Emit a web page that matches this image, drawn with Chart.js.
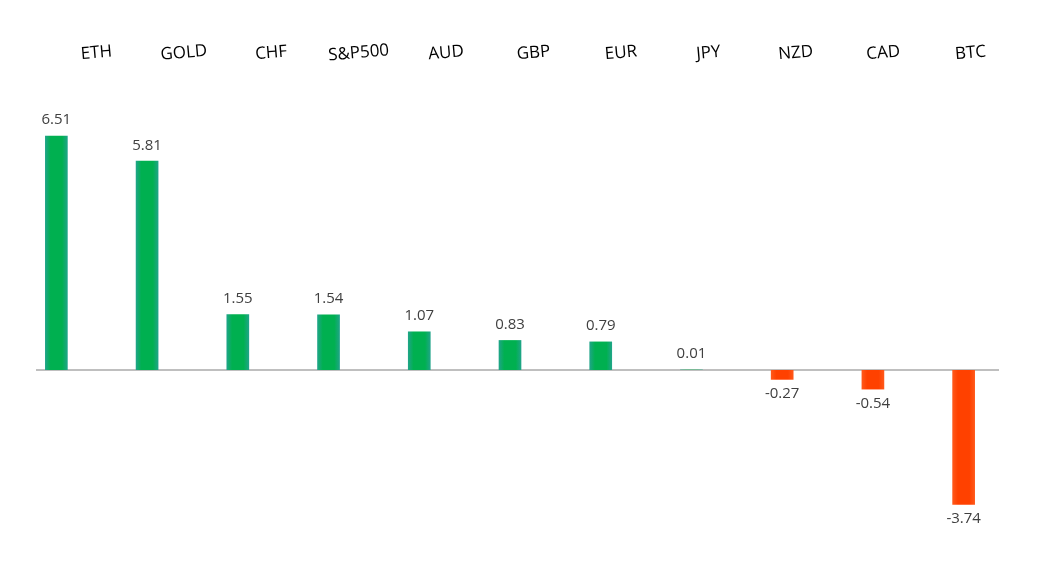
<!DOCTYPE html>
<html>
<head>
    <meta charset="utf-8"/>
    <title>Rendimiento</title>
    <script src="https://cdn.jsdelivr.net/npm/chart.js"></script>
    <style>
        html, body { margin: 0; padding: 0; background: #ffffff; }
        #chart-container { width: 1055px; height: 576px; }
    </style>
</head>
<body>
    <div id="chart-container">
        <canvas id="perfChart" width="1055" height="576"></canvas>
    </div>

    <script>
        // Datos
        const activos = ['ETH', 'GOLD', 'CHF', 'S&P500', 'AUD', 'GBP', 'EUR', 'JPY', 'NZD', 'CAD', 'BTC'];
        const valores = [6.51, 5.81, 1.55, 1.54, 1.07, 0.83, 0.79, 0.01, -0.27, -0.54, -3.74];
        const yMin = -5;
        const yMax = 8;

        const fuente = '"Open Sans", "Noto Sans", sans-serif';

        // degradado horizontal suave en cada barra
        function colorBarra(context) {
            const chart = context.chart;
            const v = context.raw;
            const centro = v >= 0 ? '#00b050' : '#ff4100';
            const borde = v >= 0 ? '#22a48c' : '#ff5a1c';
            const x = chart.scales && chart.scales.x;
            if (!x || !chart.chartArea) return centro;
            const cx = x.getPixelForValue(context.dataIndex);
            const g = chart.ctx.createLinearGradient(cx - 11.5, 0, cx + 11.5, 0);
            g.addColorStop(0, borde);
            g.addColorStop(0.25, centro);
            g.addColorStop(0.75, centro);
            g.addColorStop(1, borde);
            return g;
        }

        // linea del cero, etiquetas de valor y nombres arriba
        const etiquetasPlugin = {
            id: 'etiquetas',
            beforeDatasetsDraw(chart) {
                const { ctx, chartArea, scales } = chart;
                const y0 = scales.y.getPixelForValue(0);
                ctx.save();
                ctx.strokeStyle = '#bfbfbf';
                ctx.lineWidth = 2;
                ctx.beginPath();
                ctx.moveTo(chartArea.left + 25, y0);
                ctx.lineTo(chartArea.right - 10, y0);
                ctx.stroke();
                ctx.restore();
            },
            afterDatasetsDraw(chart) {
                const { ctx, scales } = chart;
                const meta = chart.getDatasetMeta(0);
                ctx.save();
                ctx.font = '15px ' + fuente;
                ctx.fillStyle = '#404040';
                ctx.textAlign = 'center';
                meta.data.forEach((bar, i) => {
                    const v = valores[i];
                    if (v >= 0) {
                        ctx.textBaseline = 'bottom';
                        ctx.fillText(v.toFixed(2), bar.x, Math.min(bar.y, bar.base) - 8);
                    } else {
                        ctx.textBaseline = 'top';
                        ctx.fillText(v.toFixed(2), bar.x, Math.max(bar.y, bar.base) + 7);
                    }
                });
                // nombres de los activos, algo inclinados y corridos a la derecha
                ctx.font = '17px ' + fuente;
                ctx.fillStyle = '#000000';
                ctx.textBaseline = 'middle';
                activos.forEach((nombre, i) => {
                    const x = scales.x.getPixelForValue(i) + 40 - 3.3 * i;
                    ctx.save();
                    ctx.translate(x, 53);
                    ctx.rotate(-5 * Math.PI / 180);
                    ctx.fillText(nombre, 0, 0);
                    ctx.restore();
                });
                ctx.restore();
            }
        };

        const ctx = document.getElementById('perfChart').getContext('2d');
        const chart = new Chart(ctx, {
            type: 'bar',
            data: {
                labels: activos,
                datasets: [{
                    data: valores,
                    backgroundColor: colorBarra,
                    borderWidth: 0,
                    barPercentage: 0.25,
                    categoryPercentage: 1
                }]
            },
            options: {
                responsive: false,
                animation: false,
                layout: {
                    padding: { left: 11, right: 46, top: 82, bottom: 26 }
                },
                plugins: {
                    legend: { display: false },
                    tooltip: { enabled: false }
                },
                scales: {
                    x: { display: false },
                    y: { display: false, min: yMin, max: yMax }
                }
            },
            plugins: [etiquetasPlugin]
        });
    </script>
</body>
</html>
